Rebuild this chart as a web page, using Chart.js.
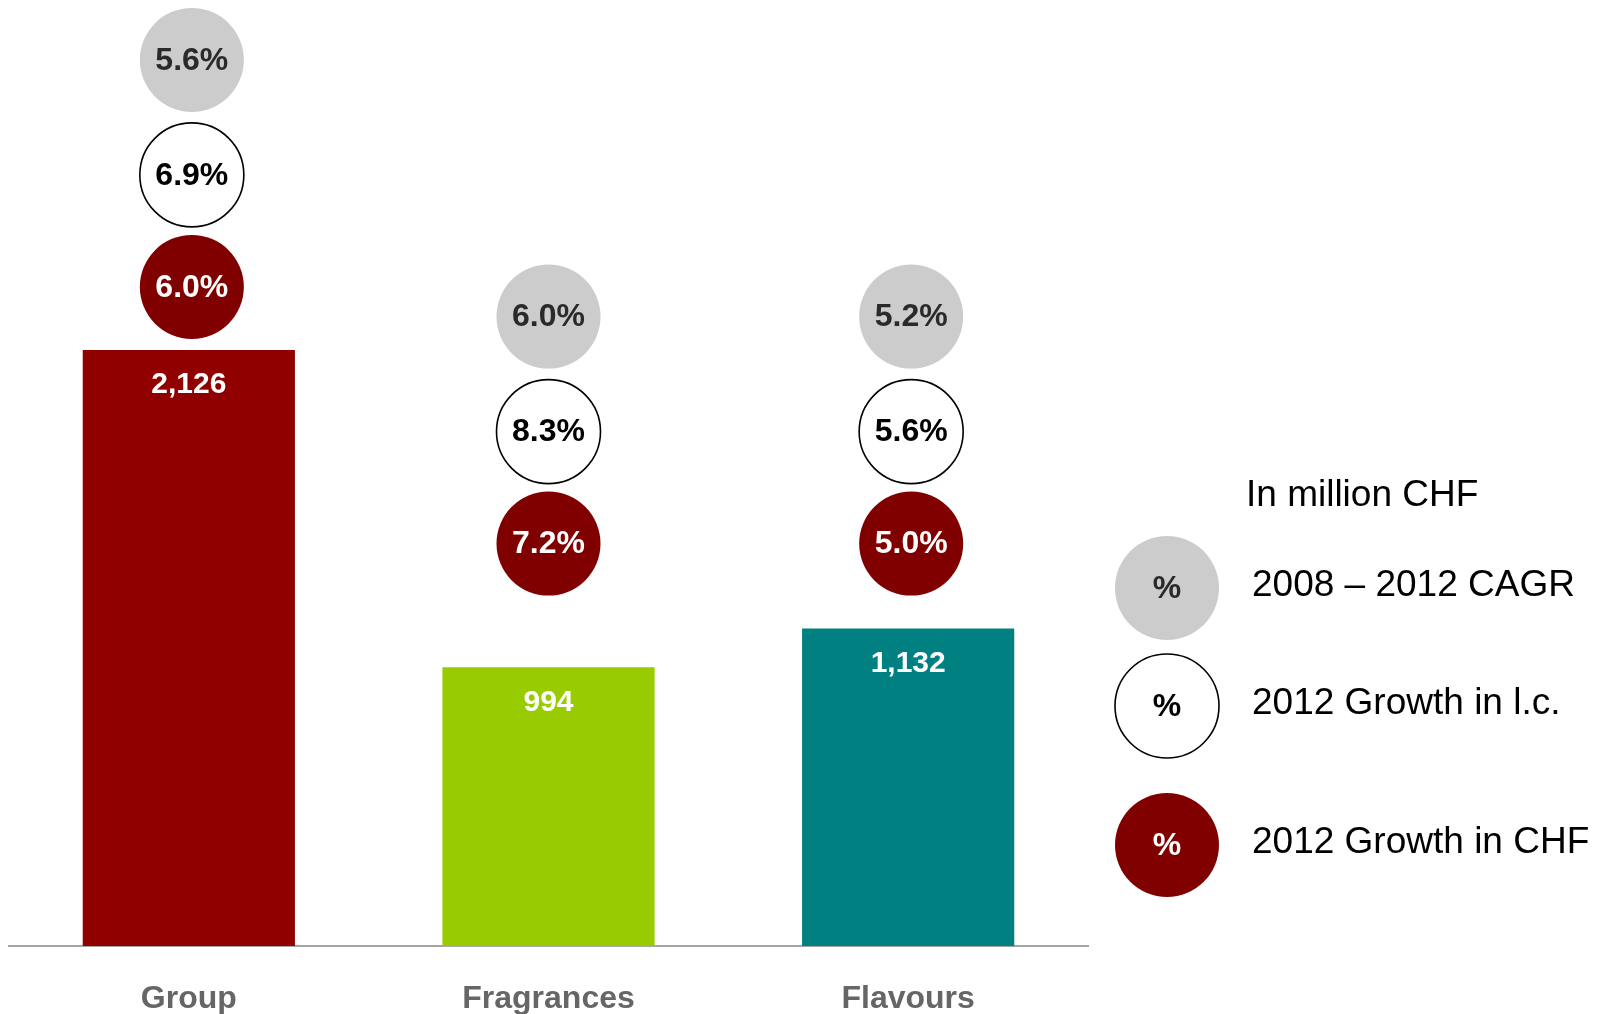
<!DOCTYPE html>
<html>
<head>
<meta charset="utf-8">
<title>Sales and growth by segment</title>
<script src="https://cdn.jsdelivr.net/npm/chart.js@4/dist/chart.umd.min.js"></script>
<style>
  html, body { margin: 0; padding: 0; background: #ffffff; }
  #wrap { width: 1608px; height: 1014px; position: relative; }
  canvas { display: block; }
</style>
</head>
<body>
<div id="wrap"><canvas id="chart" width="1608" height="1014"></canvas></div>
<script>
// Sales in million CHF per segment
const categories = ['Group', 'Fragrances', 'Flavours'];
const sales = [2126, 994, 1132];
// Growth figures in percent
const cagr = [5.6, 6.0, 5.2];          // 2008 – 2012 CAGR
const growthLC = [6.9, 8.3, 5.6];      // 2012 growth in local currencies
const growthCHF = [6.0, 7.2, 5.0];     // 2012 growth in CHF
const barColors = ['#900000', '#99cc00', '#008080'];

const FONT = '"Liberation Sans", Arial, Helvetica, sans-serif';
const fmtPct = v => v.toFixed(1) + '%';
const fmtNum = v => v.toLocaleString('en-US');

function drawBadge(ctx, x, y, r, style, text) {
  ctx.save();
  ctx.beginPath();
  ctx.arc(x, y, r, 0, Math.PI * 2);
  ctx.fillStyle = style.fill;
  ctx.fill();
  if (style.stroke) {
    ctx.lineWidth = 1.6;
    ctx.strokeStyle = style.stroke;
    ctx.stroke();
  }
  ctx.fillStyle = style.text;
  ctx.font = 'bold 32px ' + FONT;
  ctx.textAlign = 'center';
  ctx.textBaseline = 'middle';
  ctx.fillText(text, x, y + 1);
  ctx.restore();
}

const badgeStyles = {
  cagr: { fill: '#cccccc', text: '#2a2a2a' },
  lc:   { fill: '#ffffff', stroke: '#000000', text: '#000000' },
  chf:  { fill: '#800000', text: '#ffffff' }
};

// Value labels inside the bars and the stacked growth badges above them
const badgePlugin = {
  id: 'badges',
  afterDatasetsDraw(chart) {
    const ctx = chart.ctx;
    const meta = chart.getDatasetMeta(0);
    const yScale = chart.scales.y;
    const R = 52;
    // Group badges sit on their own bar; segment badges share one row
    const groupBase = yScale.getPixelForValue(sales[0]) - 63;
    const segBase = yScale.getPixelForValue(Math.max(sales[1], sales[2])) - 85;

    meta.data.forEach((bar, i) => {
      // value label
      ctx.save();
      ctx.fillStyle = '#ffffff';
      ctx.font = 'bold 30px ' + FONT;
      ctx.textAlign = 'center';
      ctx.textBaseline = 'middle';
      ctx.fillText(fmtNum(sales[i]), bar.x, bar.y + 35);
      ctx.restore();

      const base = i === 0 ? groupBase : segBase;
      const cx = bar.x + (i === 1 ? 0 : 3);
      drawBadge(ctx, cx, base, R, badgeStyles.chf, fmtPct(growthCHF[i]));
      drawBadge(ctx, cx, base - 112, R, badgeStyles.lc, fmtPct(growthLC[i]));
      drawBadge(ctx, cx, base - 227, R, badgeStyles.cagr, fmtPct(cagr[i]));
    });
  }
};

// Key explaining the badges, drawn to the right of the plot
const keyPlugin = {
  id: 'badgeKey',
  afterDraw(chart) {
    const ctx = chart.ctx;
    const area = chart.chartArea;
    const cx = area.right + 79;
    const tx = area.right + 164;
    ctx.save();
    ctx.fillStyle = '#000000';
    ctx.font = '37px ' + FONT;
    ctx.textAlign = 'left';
    ctx.textBaseline = 'middle';
    ctx.fillText('In million CHF', area.right + 158, 496);
    ctx.restore();

    const rows = [
      { y: 588, style: badgeStyles.cagr, label: '2008 – 2012 CAGR' },
      { y: 706, style: badgeStyles.lc, label: '2012 Growth in l.c.' },
      { y: 845, style: badgeStyles.chf, label: '2012 Growth in CHF' }
    ];
    rows.forEach(row => {
      drawBadge(ctx, cx, row.y, 52, row.style, '%');
      ctx.save();
      ctx.fillStyle = '#000000';
      ctx.font = '37px ' + FONT;
      ctx.textAlign = 'left';
      ctx.textBaseline = 'middle';
      ctx.fillText(row.label, tx, row.y - 2);
      ctx.restore();
    });
  }
};

new Chart(document.getElementById('chart'), {
  type: 'bar',
  data: {
    labels: categories,
    datasets: [{
      label: 'Sales',
      data: sales,
      backgroundColor: barColors,
      borderWidth: 0,
      barPercentage: 0.59,
      categoryPercentage: 1.0
    }]
  },
  options: {
    responsive: false,
    animation: false,
    devicePixelRatio: 1,
    layout: { padding: { left: 9, right: 520, top: 0, bottom: 0 } },
    plugins: {
      legend: { display: false },
      title: { display: false },
      tooltip: { enabled: false }
    },
    scales: {
      x: {
        grid: { display: false, drawTicks: false },
        border: { display: true, color: '#a6a6a6', width: 2 },
        ticks: {
          color: '#666666',
          font: { family: FONT, size: 32, weight: 'bold' },
          padding: 34
        },
        afterFit(scale) { scale.height = 68; }
      },
      y: {
        display: false,
        min: 0,
        max: 3374
      }
    }
  },
  plugins: [badgePlugin, keyPlugin]
});
</script>
</body>
</html>
